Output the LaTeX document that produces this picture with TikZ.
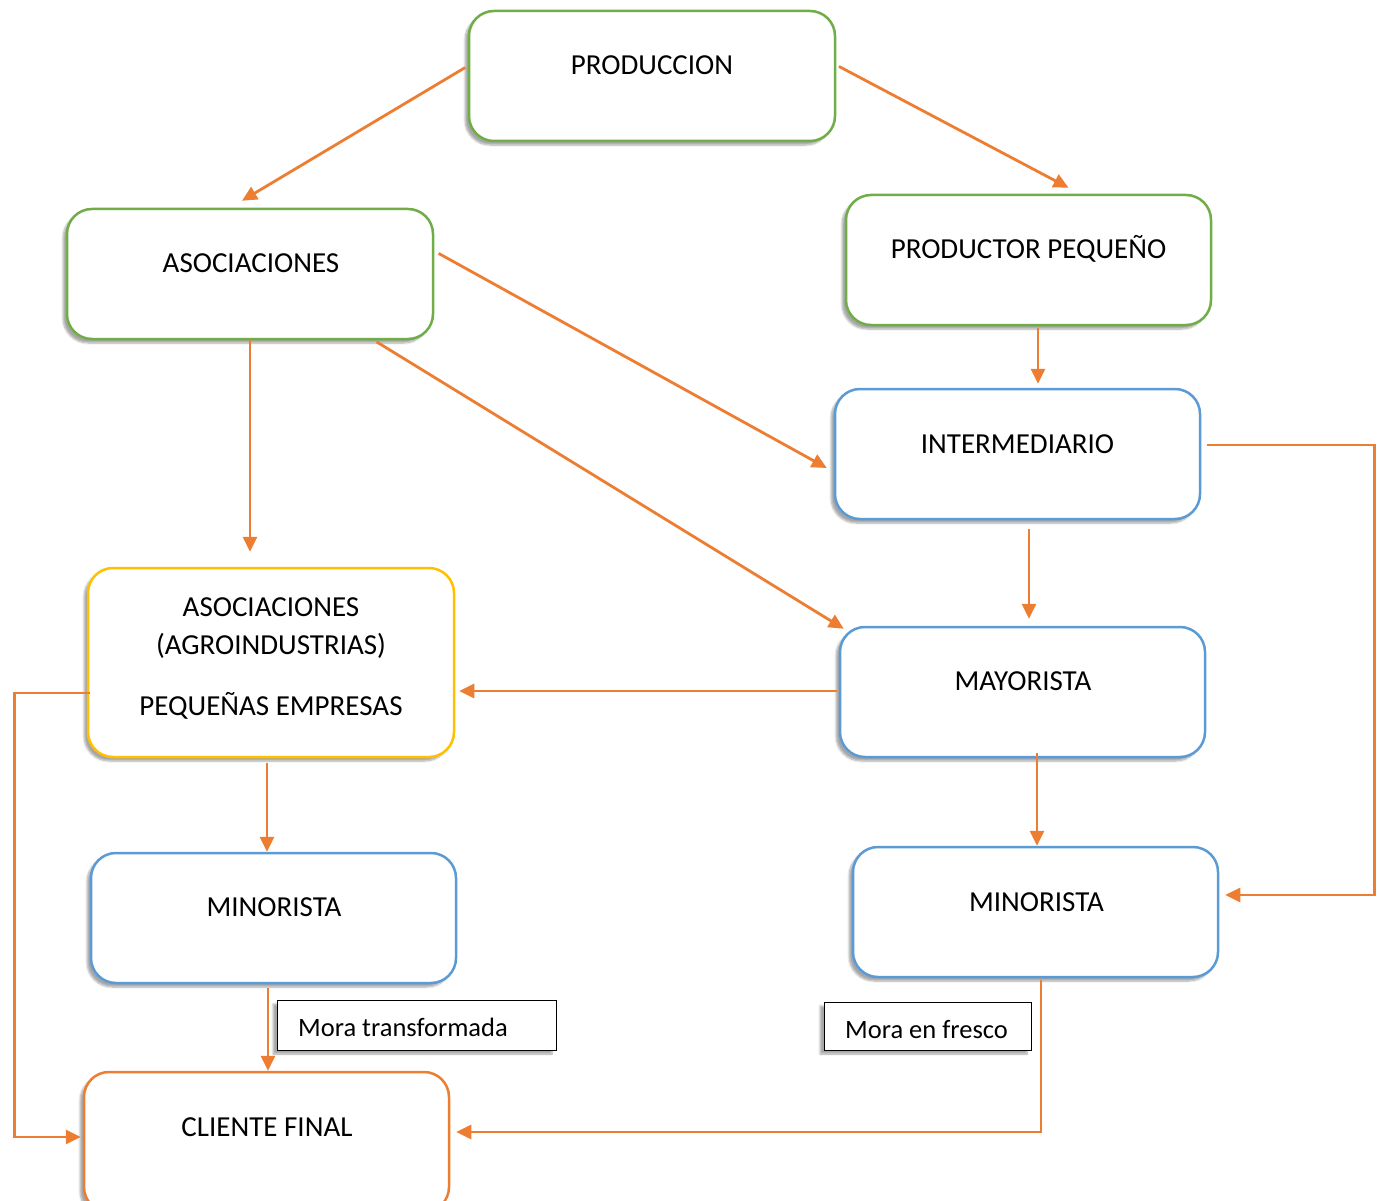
\documentclass[tikz,border=0pt]{standalone}
\usepackage{fontspec}
\setmainfont{Carlito}
\usetikzlibrary{arrows.meta,shadows.blur}
\definecolor{cgreen}{HTML}{70AD47}
\definecolor{cblue}{HTML}{5B9BD5}
\definecolor{cyellow}{HTML}{FFC000}
\definecolor{corange}{HTML}{ED7D31}
\begin{document}
\begin{tikzpicture}[x=1pt,y=-1pt,
  box/.style={draw, line width=2.5pt, rounded corners=25pt, fill=white,
    minimum width=365pt, minimum height=130pt, inner sep=0pt,
    blur shadow={shadow xshift=-4pt, shadow yshift=-4pt, shadow blur steps=6, shadow opacity=35}},
  gbox/.style={box, draw=cgreen},
  bbox/.style={box, draw=cblue},
  ybox/.style={box, draw=cyellow},
  obox/.style={box, draw=corange},
  lbl/.style={draw=black, line width=1pt, fill=white, inner sep=0pt,
    blur shadow={shadow xshift=-4pt, shadow yshift=-4pt, shadow blur steps=6, shadow opacity=35}},
  ltxt/.style={font=\fontsize{26.5}{30}\selectfont, text height=17pt, text depth=0pt, inner sep=0pt},
  txt/.style={font=\fontsize{29}{35}\selectfont, text height=19pt, text depth=0pt, inner sep=0pt},
  arr/.style={draw=corange, line width=2.8pt, -{Triangle[length=15pt,width=14pt]}},
]
\useasboundingbox (0,0) rectangle (1378,1201);
\clip (0,0) rectangle (1378,1201);

% boxes
\node[gbox, minimum width=366pt] (prod) at (652,76) {};
\node[gbox, minimum width=366pt] (asoc) at (250,274) {};
\node[gbox] (pp) at (1028.5,260) {};
\node[bbox] (inter) at (1017.5,454) {};
\node[ybox, minimum width=366pt, minimum height=189pt] (agro) at (271,662.5) {};
\node[bbox] (may) at (1022.5,692) {};
\node[bbox] (minL) at (273.5,918) {};
\node[bbox] (minR) at (1035.5,912) {};
\node[obox, minimum height=140pt] (cli) at (266.5,1142) {};

% texts
\node[txt] (prodT) at (652,65) {PRODUCCION};
\node[txt] (asocT) at (251,263) {ASOCIACIONES};
\node[txt] (ppT) at (1028.5,249) {PRODUCTOR PEQUEÑO};
\node[txt] (interT) at (1017.5,444) {INTERMEDIARIO};
\node[txt] (agroT1) at (271,607) {ASOCIACIONES};
\node[txt] (agroT2) at (271,645) {(AGROINDUSTRIAS)};
\node[txt] (agroT3) at (271,706) {PEQUEÑAS EMPRESAS};
\node[txt] (mayT) at (1023,681) {MAYORISTA};
\node[txt] (minLT) at (274,907) {MINORISTA};
\node[txt] (minRT) at (1036.5,902) {MINORISTA};
\node[txt] (cliT) at (267,1127) {CLIENTE FINAL};

% connectors
\draw[arr, shorten <=3pt] ([yshift=10pt]prod.west) -- ([xshift=-8pt,yshift=7pt]asoc.north);
\draw[arr, shorten <=3pt] ([yshift=11pt]prod.east) -- ([xshift=40pt,yshift=6pt]pp.north);
\draw[arr, shorten <=5pt] ([yshift=23pt]asoc.east) -- ([xshift=-7pt,yshift=-14pt]inter.west);
\draw[arr, shorten <=3pt] ([xshift=124pt]asoc.south) -- ([xshift=5pt,yshift=-3pt]may.north west);
\draw[arr] (asoc.south) -- ([yshift=15pt]asoc.south |- agro.north);
\draw[arr, shorten <=2pt] ([xshift=9.5pt]pp.south) -- ([xshift=9.5pt,yshift=4pt]pp.south |- inter.north);
\draw[arr, shorten <=9pt] ([xshift=11.5pt]inter.south) -- ([xshift=11.5pt,yshift=7pt]inter.south |- may.north);
\draw[arr, shorten <=6pt] ([yshift=9pt]inter.east) -- ++(173,0) |- ([xshift=6pt,yshift=17pt]minR.east);
\draw[arr, shorten <=2pt] ([yshift=1pt]may.west) -- ([xshift=4pt,yshift=1pt]may.west -| agro.east);
\draw[arr] ([xshift=14.5pt,yshift=5pt]may.south) -- ([xshift=14.5pt]may.south |- minR.north);
\draw[arr, shorten <=5pt] ([xshift=-4pt]agro.south) -- ([xshift=-4pt]agro.south |- minL.north);
\draw[arr] ([xshift=3pt,yshift=-30.5pt]agro.west) -- ++(-75,0) |- ([xshift=-2pt,yshift=5pt]cli.west);
\draw[arr, shorten <=4pt] ([xshift=-5.5pt]minL.south) -- ([xshift=-5.5pt]minL.south |- cli.north);
\draw[arr, shorten <=2pt] ([xshift=5.5pt]minR.south) |- ([xshift=6pt,yshift=10pt]cli.east);

% labels
\node[lbl, minimum width=279pt, minimum height=50pt] (mora1) at (416.5,1025) {};
\node[ltxt, anchor=west] (mora1T) at (298,1028) {Mora transformada};
\node[lbl, minimum width=207pt, minimum height=48pt] (mora2) at (927.5,1026) {};
\node[ltxt] (mora2T) at (926.5,1030) {Mora en fresco};
\end{tikzpicture}
\end{document}
